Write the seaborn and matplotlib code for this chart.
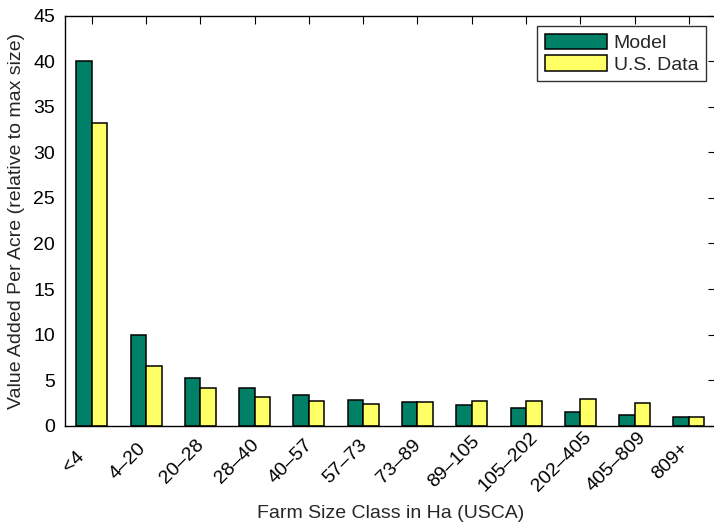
import numpy as np
import pandas as pd
import seaborn as sns
import matplotlib.pyplot as plt
import matplotlib.transforms as mtransforms

# Farm size classes and values
classes = ['<4', '4–20', '20–28', '28–40', '40–57', '57–73', '73–89',
           '89–105', '105–202', '202–405', '405–809', '809+']
model = [40.0, 10.0, 5.27, 4.13, 3.33, 2.81, 2.56, 2.3, 1.9, 1.49, 1.21, 0.99]
us_data = [33.2, 6.55, 4.17, 3.14, 2.67, 2.41, 2.59, 2.74, 2.67, 2.89, 2.52, 0.97]

df = pd.DataFrame({
    'Class': classes * 2,
    'Value': model + us_data,
    'Series': ['Model'] * len(classes) + ['U.S. Data'] * len(classes),
})

sns.set_style('white')
plt.rcParams['font.family'] = ['Liberation Sans', 'DejaVu Sans']
plt.rcParams['font.size'] = 14

fig = plt.figure(figsize=(7.14, 5.23), dpi=100)
ax = fig.add_axes([0.0906, 0.186, 0.9122, 0.784])

sns.barplot(data=df, x='Class', y='Value', hue='Series', order=classes,
            hue_order=['Model', 'U.S. Data'],
            palette=['#008066', '#FFFF66'], width=0.57, gap=0,
            edgecolor='black', linewidth=1.1, saturation=1, ax=ax)

ax.set_xlim(-0.5, len(classes) - 0.5)
ax.set_ylim(0, 45)
ax.set_yticks(np.arange(0, 46, 5))
ax.set_xticks(range(len(classes)))
ax.set_xticklabels(classes, rotation=45, ha='center', va='center',
                   rotation_mode='anchor')
ax.tick_params(axis='y', direction='in', length=6, width=0.8, right=True,
               labelsize=14, colors='black', pad=7)
ax.tick_params(axis='x', direction='in', length=6, width=0.8, top=True,
               labelsize=14, colors='black', pad=0)
# MATLAB-style placement: label centres sit down-left of their ticks
shift = mtransforms.ScaledTranslation(-18 / 100, -36 / 100, fig.dpi_scale_trans)
for lbl in ax.get_xticklabels():
    lbl.set_transform(lbl.get_transform() + shift)
for s in ax.spines.values():
    s.set_visible(True)
    s.set_color('black')
    s.set_linewidth(1)

ax.set_xlabel('Farm Size Class in Ha (USCA)', fontsize=14)
ax.xaxis.set_label_coords(0.5, -0.193)
ax.set_ylabel('Value Added Per Acre (relative to max size)', fontsize=14)
ax.yaxis.set_label_coords(-0.061, 0.5)

leg = ax.legend(loc='upper right', bbox_to_anchor=(0.985, 0.975), fontsize=14,
                frameon=True, fancybox=False, edgecolor='black',
                handlelength=3.2, handleheight=0.85, borderpad=0.4,
                labelspacing=0.15, handletextpad=0.35, borderaxespad=0)
leg.get_frame().set_linewidth(1)

fig.savefig('out.png', dpi=100)
